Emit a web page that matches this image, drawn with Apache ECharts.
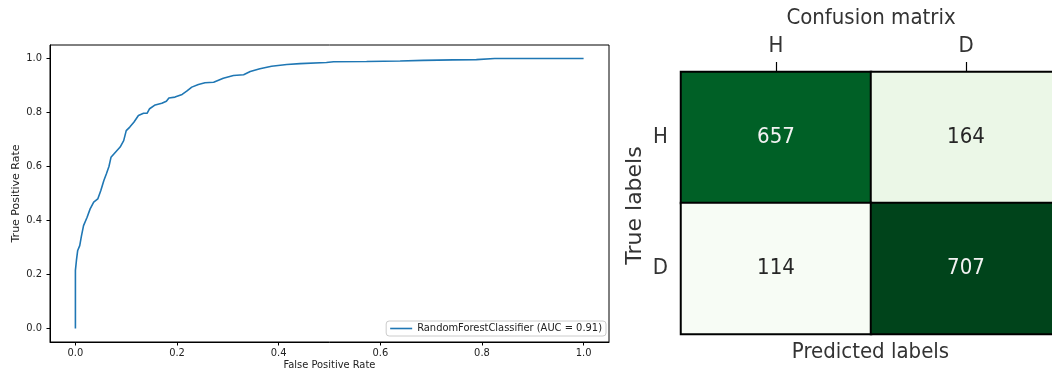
<!DOCTYPE html>
<html>
<head>
<meta charset="utf-8">
<script src="https://cdn.jsdelivr.net/npm/echarts@6/dist/echarts.min.js"></script>
<style>html,body{margin:0;padding:0;background:#fff}#c{width:1052px;height:370px}</style>
</head>
<body>
<div id="c"></div>
<script>
// ROC curve points
const fpr = [0, 0, 0.002, 0.0045, 0.0085, 0.012, 0.016, 0.023, 0.029, 0.036, 0.044, 0.050, 0.056, 0.061, 0.066, 0.070, 0.077, 0.088, 0.095, 0.100, 0.107, 0.115, 0.124, 0.134, 0.141, 0.146, 0.157, 0.170, 0.179, 0.184, 0.196, 0.210, 0.219, 0.229, 0.242, 0.255, 0.272, 0.291, 0.311, 0.331, 0.344, 0.363, 0.386, 0.416, 0.442, 0.494, 0.508, 0.573, 0.639, 0.684, 0.743, 0.789, 0.825, 1.0];
const tpr = [0, 0.215, 0.252, 0.289, 0.307, 0.344, 0.381, 0.412, 0.443, 0.468, 0.480, 0.511, 0.548, 0.573, 0.600, 0.634, 0.649, 0.672, 0.696, 0.733, 0.746, 0.764, 0.789, 0.797, 0.797, 0.814, 0.828, 0.834, 0.842, 0.854, 0.857, 0.867, 0.879, 0.894, 0.904, 0.910, 0.912, 0.927, 0.937, 0.940, 0.952, 0.962, 0.971, 0.978, 0.981, 0.985, 0.988, 0.989, 0.991, 0.993, 0.995, 0.996, 1.0, 1.0];
const rocTicks = [0.0, 0.2, 0.4, 0.6, 0.8, 1.0];
const rocName = 'RandomForestClassifier (AUC = 0.91)';

// Confusion matrix
const predLabels = ['H', 'D'];
const trueLabels = ['H', 'D'];
const matrixRowH = [657, 164];
const matrixRowD = [114, 707];

const greens = ['#f7fcf5','#e5f5e0','#c7e9c0','#a1d99b','#74c476','#41ab5d','#238b45','#006d2c','#00441b'];
const FC = "'DejaVu Sans Condensed', 'DejaVu Sans', sans-serif";
const FN = "'DejaVu Sans', sans-serif";

const rows = [matrixRowH, matrixRowD];
const allVals = rows.flat();
const vmin = Math.min(...allVals), vmax = Math.max(...allVals);
const heatData = [];
rows.forEach((row, yi) => row.forEach((v, xi) => {
  heatData.push({ value: [xi, yi, v], label: { color: v > (vmin + vmax) / 2 ? '#f2f2f2' : '#262626' } });
}));

const chart = echarts.init(document.getElementById('c'), null, { renderer: 'canvas' });
chart.setOption({
  animation: false,
  backgroundColor: '#fff',
  grid: [
    { left: 50, top: 45, width: 559, height: 297, show: true, borderColor: '#000', borderWidth: 1, backgroundColor: 'transparent', containLabel: false, outerBoundsMode: 'none' },
    { left: 681, top: 72, width: 380, height: 262, containLabel: false, outerBoundsMode: 'none' }
  ],
  legend: {
    data: [rocName],
    icon: 'rect',
    right: 446, bottom: 34,
    itemWidth: 22, itemHeight: 1.6, itemGap: 4,
    padding: [2, 4, 2, 4],
    borderColor: '#cccccc', borderWidth: 1, borderRadius: 3,
    backgroundColor: '#fff',
    textStyle: { fontFamily: FC, fontSize: 11, color: '#222' }
  },
  visualMap: { show: false, seriesIndex: 1, min: vmin, max: vmax, inRange: { color: greens } },
  xAxis: [
    {
      gridIndex: 0, type: 'value', min: -0.05, max: 1.05,
      name: 'False Positive Rate', nameLocation: 'middle', nameGap: 18, nameMoveOverlap: false,
      nameTextStyle: { fontFamily: FC, fontSize: 11, color: '#222' },
      axisLine: { show: true, onZero: false, lineStyle: { color: '#000', width: 1 } },
      axisTick: { show: true, length: 3.5, customValues: rocTicks, lineStyle: { color: '#000' } },
      axisLabel: { customValues: rocTicks, margin: 6, fontFamily: FC, fontSize: 11, color: '#222', formatter: v => v.toFixed(1) },
      splitLine: { show: false }
    },
    {
      gridIndex: 1, type: 'category', data: predLabels, position: 'top',
      axisLine: { show: true, lineStyle: { color: '#333', width: 1 } },
      axisTick: { show: true, alignWithLabel: true, length: 10, lineStyle: { color: '#000', width: 1.2 } },
      axisLabel: { margin: 15, fontFamily: FC, fontSize: 22, color: '#333' },
      splitLine: { show: false }
    }
  ],
  yAxis: [
    {
      gridIndex: 0, type: 'value', min: -0.05, max: 1.05,
      name: 'True Positive Rate', nameLocation: 'middle', nameGap: 28, nameRotate: 90, nameMoveOverlap: false,
      nameTextStyle: { fontFamily: FN, fontSize: 11, color: '#222' },
      axisLine: { show: true, onZero: false, lineStyle: { color: '#000', width: 1 } },
      axisTick: { show: true, length: 3.5, customValues: rocTicks, lineStyle: { color: '#000' } },
      axisLabel: { customValues: rocTicks, margin: 8, fontFamily: FC, fontSize: 11, color: '#222', formatter: v => v.toFixed(1) },
      splitLine: { show: false }
    },
    {
      gridIndex: 1, type: 'category', data: trueLabels, inverse: true,
      axisLine: { show: true, lineStyle: { color: '#333', width: 1 } },
      axisTick: { show: false },
      axisLabel: { margin: 13, fontFamily: FC, fontSize: 22, color: '#333' },
      splitLine: { show: false }
    }
  ],
  series: [
    {
      name: rocName, type: 'line', xAxisIndex: 0, yAxisIndex: 0,
      data: fpr.map((x, i) => [x, tpr[i]]),
      symbol: 'none', showSymbol: false,
      lineStyle: { color: '#1f77b4', width: 1.6 },
      itemStyle: { color: '#1f77b4' }
    },
    {
      name: 'cm', type: 'heatmap', xAxisIndex: 1, yAxisIndex: 1,
      data: heatData,
      itemStyle: { borderColor: '#000', borderWidth: 2 },
      label: { show: true, fontFamily: FC, fontSize: 22 },
      emphasis: { disabled: true }
    }
  ],
  graphic: [
    { type: 'text', x: 871, y: 18.5, style: { text: 'Confusion matrix', font: "22px 'DejaVu Sans Condensed', 'DejaVu Sans'", fill: '#333', align: 'center', verticalAlign: 'middle' } },
    { type: 'text', x: 870.5, y: 352.5, style: { text: 'Predicted labels', font: "22px 'DejaVu Sans Condensed', 'DejaVu Sans'", fill: '#333', align: 'center', verticalAlign: 'middle' } },
    { type: 'text', x: 635.5, y: 205.5, rotation: Math.PI / 2, style: { text: 'True labels', font: "22px 'DejaVu Sans'", fill: '#333', align: 'center', verticalAlign: 'middle' } }
  ]
});
</script>
</body>
</html>
